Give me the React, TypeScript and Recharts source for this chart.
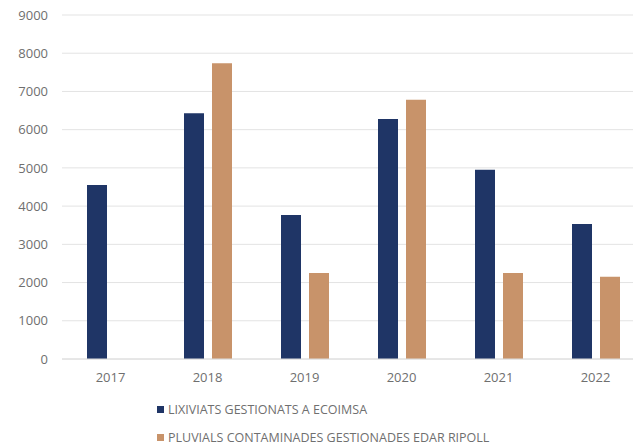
import React from "react";
import { BarChart, Bar, XAxis, YAxis, CartesianGrid, Legend } from "recharts";

const years = ["2017", "2018", "2019", "2020", "2021", "2022"];
const lixiviats = [4550, 6430, 3770, 6280, 4950, 3530];
const pluvials = [null, 7740, 2250, 6780, 2250, 2150];
const yTicks = [0, 1000, 2000, 3000, 4000, 5000, 6000, 7000, 8000, 9000];

const SERIES = [
  { key: "lixiviats", name: "LIXIVIATS GESTIONATS A ECOIMSA", color: "#1f3566" },
  { key: "pluvials", name: "PLUVIALS CONTAMINADES GESTIONADES EDAR RIPOLL", color: "#c8936a" },
];

const data = years.map((year, i) => ({
  year,
  lixiviats: lixiviats[i],
  pluvials: pluvials[i],
}));

const FONT = "'Open Sans', sans-serif";
const TEXT = "#6f6f6f";

const LegendContent = () => (
  <div style={{ fontFamily: FONT, fontSize: 12.5, color: TEXT }}>
    {SERIES.map((s) => (
      <div key={s.key} style={{ display: "flex", alignItems: "center", height: 28 }}>
        <span style={{ width: 7, height: 7, background: s.color, marginRight: 4 }} />
        <span>{s.name}</span>
      </div>
    ))}
  </div>
);

export default function App() {
  return (
    <div style={{ position: "fixed", left: 0, top: 0, width: 633, height: 448, overflow: "hidden", background: "#fff" }}>
      <BarChart
        width={644}
        height={448}
        data={data}
        margin={{ top: 15, right: 0, left: 0, bottom: 59 }}
        barGap={8}
        barSize={20}
      >
        <CartesianGrid vertical={false} stroke="#e3e3e3" />
        <XAxis
          dataKey="year"
          axisLine={{ stroke: "#dcdcdc" }}
          tickLine={false}
          tickSize={0}
          tickMargin={14}
          tick={{ fill: TEXT, fontSize: 13, fontFamily: FONT }}
        />
        <YAxis
          width={62}
          domain={[0, 9000]}
          ticks={yTicks}
          axisLine={false}
          tickLine={false}
          tickSize={0}
          tickMargin={14}
          tick={{ fill: TEXT, fontSize: 13, fontFamily: FONT }}
        />
        <Legend
          layout="horizontal"
          verticalAlign="middle"
          align="center"
          content={<LegendContent />}
          wrapperStyle={{ left: 157, top: 395, width: 460, height: 56 }}
        />
        {SERIES.map((s) => (
          <Bar key={s.key} dataKey={s.key} name={s.name} fill={s.color} isAnimationActive={false} />
        ))}
      </BarChart>
    </div>
  );
}
